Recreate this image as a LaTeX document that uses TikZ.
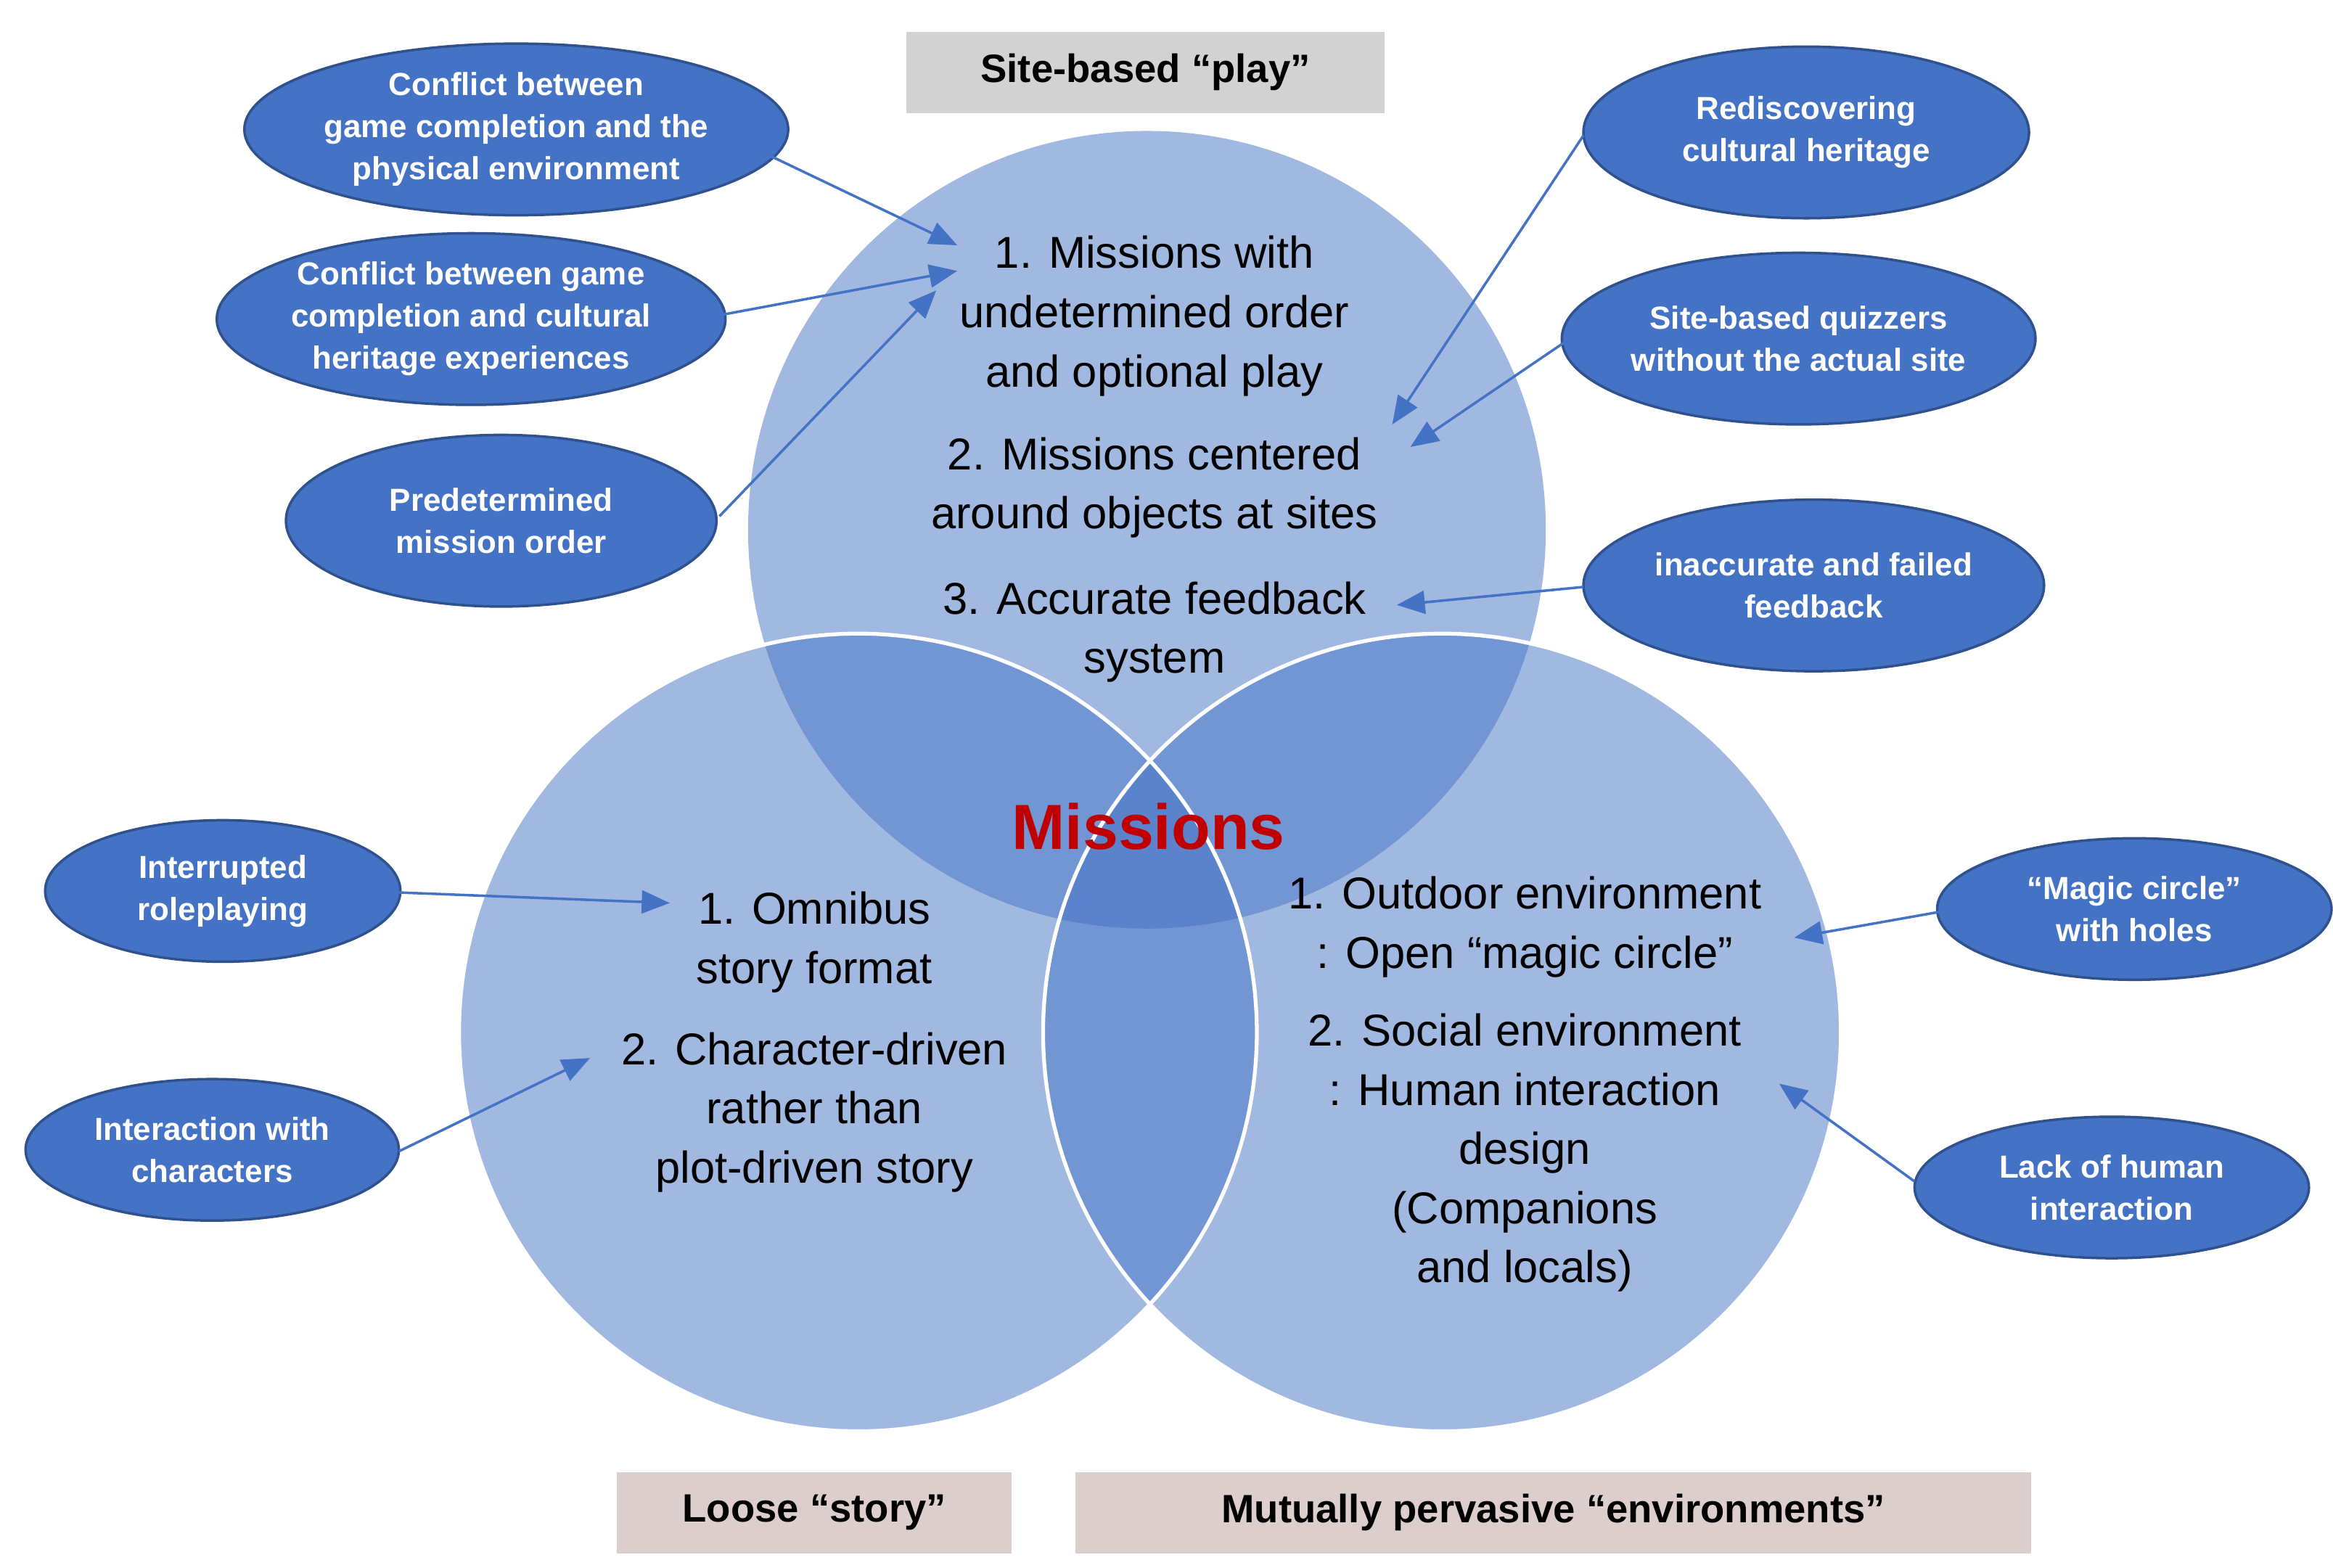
\documentclass[tikz,border=0pt]{standalone}
\usepackage{fontspec}
\setmainfont{Liberation Sans}
\usetikzlibrary{shapes.geometric,arrows.meta}
\definecolor{mblue}{HTML}{4472C4}
\definecolor{dblue}{HTML}{2F528F}
\definecolor{mred}{HTML}{C00000}
\definecolor{gbox}{RGB}{210,210,210}
\definecolor{pbox}{RGB}{219,206,204}
\begin{document}
\begin{tikzpicture}[x=0.02074cm,y=-0.02074cm,
  oval/.style={ellipse,fill=mblue,draw=dblue,line width=1pt,text=white,align=center,inner sep=0pt,
    font=\fontsize{12.5}{16.5}\selectfont\bfseries},
  ctext/.style={align=center,font=\fontsize{17.5}{23.2}\selectfont},
  tbox/.style={inner sep=0pt,font=\fontsize{15.5}{18}\selectfont\bfseries},
  arr/.style={draw=mblue,line width=1pt,-{Triangle[length=11pt,width=9pt]}}]
\useasboundingbox (0,0) rectangle (1550,1041.4);
% circles
\fill[mblue,opacity=0.5] (762,352) circle[radius=265];
\fill[mblue,opacity=0.5] (570,686) circle[radius=265];
\fill[mblue,opacity=0.5] (958,686) circle[radius=265];
\draw[white,line width=1.5pt] (570,686) circle[radius=265];
\draw[white,line width=1.5pt] (958,686) circle[radius=265];
% title boxes
\node[tbox,fill=gbox,minimum width={318*0.02074cm},minimum height={54*0.02074cm}] (t1) at (761,48) {Site-based “play”};
\node[tbox,fill=pbox,minimum width={262*0.02074cm},minimum height={54*0.02074cm}] (t2) at (541,1005) {Loose “story”};
\node[tbox,fill=pbox,minimum width={635*0.02074cm},minimum height={54*0.02074cm}] (t3) at (1032,1005) {Mutually pervasive “environments”};
% circle texts
\node[ctext] (a1) at (767,210) {1. Missions with\\undetermined order\\and optional play};
\node[ctext] (a2) at (767,324) {2. Missions centered\\around objects at sites};
\node[ctext] (a3) at (767,420) {3. Accurate feedback\\system};
\node[font=\fontsize{25}{30}\selectfont\bfseries,text=mred] (m) at (763,549) {Missions};
\node[ctext] (b1) at (541,626) {1. Omnibus\\story format};
\node[ctext] (b2) at (541,739) {2. Character-driven\\rather than\\plot-driven story};
\node[ctext] (c1) at (1013,616) {1. Outdoor environment\\: Open “magic circle”};
\node[ctext] (c2) at (1013,766) {2. Social environment\\: Human interaction\\design\\(Companions\\and locals)};
% ovals
\node[oval,minimum width={310*0.02074cm},minimum height={114*0.02074cm}] (e1) at (343,86) {Conflict between\\game completion and the\\physical environment};
\node[oval,minimum width={320*0.02074cm},minimum height={114*0.02074cm}] (e2) at (313,212) {Conflict between game\\completion and cultural\\heritage experiences};
\node[oval,minimum width={286*0.02074cm},minimum height={114*0.02074cm}] (e3) at (333,346) {Predetermined\\mission order};
\node[oval,minimum width={296*0.02074cm},minimum height={114*0.02074cm}] (e4) at (1200,88) {Rediscovering\\cultural heritage};
\node[oval,minimum width={306*0.02074cm},minimum height={114*0.02074cm}] (e5) at (1195,225) {Site-based quizzers\\without the actual site};
\node[oval,minimum width={306*0.02074cm},minimum height={114*0.02074cm}] (e6) at (1205,389) {inaccurate and failed\\feedback};
\node[oval,minimum width={236*0.02074cm},minimum height={94*0.02074cm}] (e7) at (148,592) {Interrupted\\roleplaying};
\node[oval,minimum width={248*0.02074cm},minimum height={94*0.02074cm}] (e8) at (141,764) {Interaction with\\characters};
\node[oval,minimum width={262*0.02074cm},minimum height={94*0.02074cm}] (e9) at (1418,604) {“Magic circle”\\with holes};
\node[oval,minimum width={262*0.02074cm},minimum height={94*0.02074cm}] (e10) at (1403,789) {Lack of human\\interaction};
% arrow ends
\coordinate (p1) at (636,163);
\coordinate (p2) at (636,180);
\coordinate (p3) at (622,193);
\coordinate (p4) at (925,282);
\coordinate (p5) at (937,297);
\coordinate (p6) at (928,402);
\coordinate (p7) at (445,600);
\coordinate (p8) at (392,703);
\coordinate (p9) at (1192,623);
\coordinate (p10) at (1182,720);
\coordinate (s1) at (498,97);
\coordinate (s2) at (475,210);
\coordinate (s3) at (478,343);
\coordinate (s4) at (1052,90);
\coordinate (s5) at (1043,225);
\coordinate (s6) at (1052,390);
\coordinate (s7) at (265,593);
\coordinate (s8) at (265,765);
\coordinate (s9) at (1288,606);
\coordinate (s10) at (1272,785);
\foreach \i in {1,...,10} \draw[arr] (s\i) -- (p\i);
\end{tikzpicture}
\end{document}
